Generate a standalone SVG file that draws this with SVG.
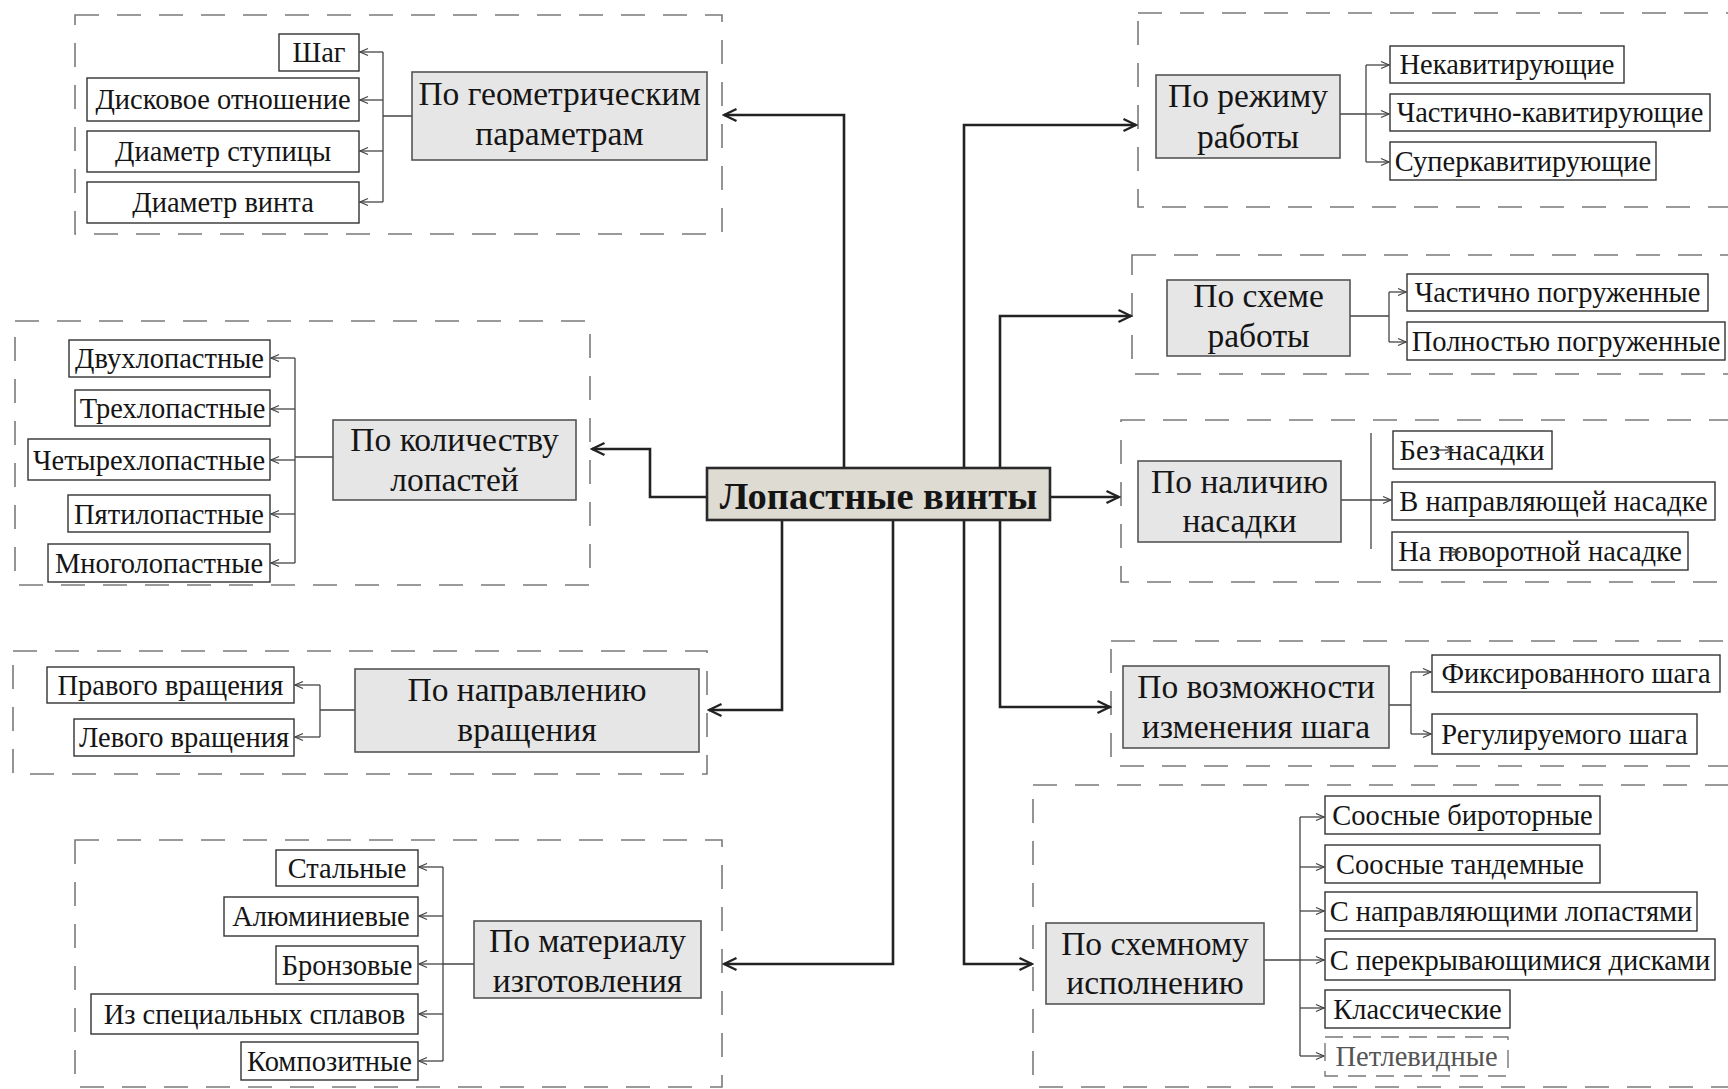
<svg xmlns="http://www.w3.org/2000/svg" width="1728" height="1089" viewBox="0 0 1728 1089">
<style>
.bg{fill:#ffffff}
.grp{fill:none;stroke:#7a7a7a;stroke-width:1.6;stroke-dasharray:24 18}
.cat{fill:#e6e6e6;stroke:#555;stroke-width:1.6}
.leaf{fill:#ffffff;stroke:#333;stroke-width:1.4}
.leafd{fill:#ffffff;stroke:#777;stroke-width:1.4;stroke-dasharray:18 10}
.root{fill:#dedbd3;stroke:#2a2a2a;stroke-width:2.6}
text{font-family:"Liberation Serif","Times New Roman",serif;fill:#151515;text-anchor:middle}
.lt{font-size:28.5px}
.ct{font-size:33.5px}
.rt{font-size:38.5px;font-weight:bold}
.gt{fill:#555}
.main{fill:none;stroke:#222;stroke-width:2.6;marker-end:url(#ab)}
.sub{fill:none;stroke:#444;stroke-width:1.3}
.sa{fill:none;stroke:#444;stroke-width:1.3;marker-end:url(#as)}
</style>
<defs>
<marker id="ab" viewBox="0 0 16 16" refX="14" refY="8" markerWidth="16" markerHeight="16" markerUnits="userSpaceOnUse" orient="auto"><path d="M1.5,2 L14,8 L1.5,14" fill="none" stroke="#222" stroke-width="2.4"/></marker>
<marker id="as" viewBox="0 0 10 10" refX="9" refY="5" markerWidth="10" markerHeight="10" markerUnits="userSpaceOnUse" orient="auto"><path d="M1,1.5 L9,5 L1,8.5" fill="none" stroke="#444" stroke-width="1.3"/></marker>
</defs>
<rect class="bg" x="0" y="0" width="1728" height="1089"/>

<g id="groups">
<rect class="grp" x="75" y="15" width="647" height="219"/>
<rect class="grp" x="15" y="321" width="575" height="264"/>
<rect class="grp" x="13" y="651" width="694" height="123"/>
<rect class="grp" x="75" y="840" width="647" height="247"/>
<rect class="grp" x="1138" y="13" width="620" height="194"/>
<rect class="grp" x="1132" y="255" width="626" height="119"/>
<rect class="grp" x="1121" y="420" width="637" height="162"/>
<rect class="grp" x="1111" y="641" width="647" height="125"/>
<rect class="grp" x="1033" y="785" width="725" height="302"/>
</g>

<g id="connectors">
<path class="main" d="M844,467 V115 H724"/>
<path class="main" d="M707,497 H650 V449 H592"/>
<path class="main" d="M782,520 V710 H709"/>
<path class="main" d="M893,520 V964 H724"/>
<path class="main" d="M964,467 V125 H1136"/>
<path class="main" d="M1000,467 V316 H1131"/>
<path class="main" d="M1050,497 H1119"/>
<path class="main" d="M1000,520 V707 H1110"/>
<path class="main" d="M964,520 V964 H1032"/>

<path class="sub" d="M412,116 H383 M383,52 V202"/>
<path class="sa" d="M383,52 H360"/><path class="sa" d="M383,100 H360"/><path class="sa" d="M383,151 H360"/><path class="sa" d="M383,202 H360"/>

<path class="sub" d="M333,457 H295 M295,358 V563"/>
<path class="sa" d="M295,358 H271"/><path class="sa" d="M295,409 H271"/><path class="sa" d="M295,460 H271"/><path class="sa" d="M295,514 H271"/><path class="sa" d="M295,563 H271"/>

<path class="sub" d="M355,710 H320 M320,685 V737"/>
<path class="sa" d="M320,685 H295"/><path class="sa" d="M320,737 H295"/>

<path class="sub" d="M474,964 H443 M443,867 V1061"/>
<path class="sa" d="M443,867 H419"/><path class="sa" d="M443,916 H419"/><path class="sa" d="M443,964 H419"/><path class="sa" d="M443,1014 H419"/><path class="sa" d="M443,1061 H419"/>

<path class="sub" d="M1340,114 H1366 M1366,65 V162"/>
<path class="sa" d="M1366,65 H1389"/><path class="sa" d="M1366,114 H1389"/><path class="sa" d="M1366,162 H1389"/>

<path class="sub" d="M1350,316 H1389 M1389,292 V342"/>
<path class="sa" d="M1389,292 H1406"/><path class="sa" d="M1389,342 H1406"/>

<path class="sub" d="M1371,433 V549"/>
<path class="sa" d="M1341,500 H1391"/>

<path class="sub" d="M1389,705 H1411 M1411,672 V734"/>
<path class="sa" d="M1411,672 H1431"/><path class="sa" d="M1411,734 H1431"/>

<path class="sub" d="M1264,960 H1300 M1300,817 V1056"/>
<path class="sa" d="M1300,817 H1324"/><path class="sa" d="M1300,867 H1324"/><path class="sa" d="M1300,911 H1324"/><path class="sa" d="M1300,960 H1324"/><path class="sa" d="M1300,1008 H1324"/><path class="sa" d="M1300,1056 H1324"/>
</g>

<g id="root"><rect class="root" x="707" y="468" width="343" height="52"/><text class="rt" x="878.5" y="509">Лопастные винты</text></g>

<g id="geom"><rect class="cat" x="412" y="72" width="295" height="88"/><text class="ct" x="559.5" y="105">По геометрическим</text><text class="ct" x="559.5" y="145">параметрам</text></g>
<g id="geom-1"><rect class="leaf" x="279" y="34" width="80" height="37"/><text class="lt" x="319" y="62">Шаг</text></g>
<g id="geom-2"><rect class="leaf" x="87" y="78" width="272" height="43"/><text class="lt" x="223" y="109">Дисковое отношение</text></g>
<g id="geom-3"><rect class="leaf" x="87" y="131" width="272" height="41"/><text class="lt" x="223" y="161">Диаметр ступицы</text></g>
<g id="geom-4"><rect class="leaf" x="87" y="182" width="272" height="41"/><text class="lt" x="223" y="212">Диаметр винта</text></g>

<g id="blades"><rect class="cat" x="333" y="420" width="243" height="80"/><text class="ct" x="454.5" y="451">По количеству</text><text class="ct" x="454.5" y="491">лопастей</text></g>
<g id="blades-1"><rect class="leaf" x="69" y="340" width="201" height="37"/><text class="lt" x="169.5" y="368">Двухлопастные</text></g>
<g id="blades-2"><rect class="leaf" x="75" y="390" width="195" height="36"/><text class="lt" x="172.5" y="418">Трехлопастные</text></g>
<g id="blades-3"><rect class="leaf" x="28" y="439" width="242" height="41"/><text class="lt" x="149" y="470">Четырехлопастные</text></g>
<g id="blades-4"><rect class="leaf" x="68" y="495" width="202" height="37"/><text class="lt" x="169" y="524">Пятилопастные</text></g>
<g id="blades-5"><rect class="leaf" x="48" y="544" width="222" height="38"/><text class="lt" x="159" y="573">Многолопастные</text></g>

<g id="rotation"><rect class="cat" x="355" y="669" width="344" height="83"/><text class="ct" x="527" y="701">По направлению</text><text class="ct" x="527" y="741">вращения</text></g>
<g id="rotation-1"><rect class="leaf" x="47" y="667" width="247" height="36"/><text class="lt" x="170.5" y="695">Правого вращения</text></g>
<g id="rotation-2"><rect class="leaf" x="74" y="719" width="220" height="37"/><text class="lt" x="184" y="747">Левого вращения</text></g>

<g id="material"><rect class="cat" x="474" y="921" width="227" height="77"/><text class="ct" x="587.5" y="952">По материалу</text><text class="ct" x="587.5" y="992">изготовления</text></g>
<g id="material-1"><rect class="leaf" x="276" y="850" width="142" height="36"/><text class="lt" x="347" y="878">Стальные</text></g>
<g id="material-2"><rect class="leaf" x="224" y="897" width="194" height="39"/><text class="lt" x="321" y="926">Алюминиевые</text></g>
<g id="material-3"><rect class="leaf" x="276" y="946" width="142" height="38"/><text class="lt" x="347" y="975">Бронзовые</text></g>
<g id="material-4"><rect class="leaf" x="91" y="994" width="327" height="40"/><text class="lt" x="254.5" y="1024">Из специальных сплавов</text></g>
<g id="material-5"><rect class="leaf" x="241" y="1042" width="177" height="38"/><text class="lt" x="329.5" y="1071">Композитные</text></g>

<g id="mode"><rect class="cat" x="1156" y="75" width="184" height="83"/><text class="ct" x="1248" y="107">По режиму</text><text class="ct" x="1248" y="148">работы</text></g>
<g id="mode-1"><rect class="leaf" x="1390" y="46" width="234" height="37"/><text class="lt" x="1507" y="74">Некавитирующие</text></g>
<g id="mode-2"><rect class="leaf" x="1390" y="94" width="320" height="37"/><text class="lt" x="1550" y="122">Частично-кавитирующие</text></g>
<g id="mode-3"><rect class="leaf" x="1390" y="142" width="266" height="38"/><text class="lt" x="1523" y="171">Суперкавитирующие</text></g>

<g id="scheme"><rect class="cat" x="1167" y="280" width="183" height="76"/><text class="ct" x="1258.5" y="307">По схеме</text><text class="ct" x="1258.5" y="347">работы</text></g>
<g id="scheme-1"><rect class="leaf" x="1407" y="274" width="301" height="37"/><text class="lt" x="1557.5" y="302">Частично погруженные</text></g>
<g id="scheme-2"><rect class="leaf" x="1407" y="322" width="318" height="38"/><text class="lt" x="1566" y="351">Полностью погруженные</text></g>

<g id="nozzle"><rect class="cat" x="1138" y="461" width="203" height="81"/><text class="ct" x="1239.5" y="493">По наличию</text><text class="ct" x="1239.5" y="532">насадки</text></g>
<g id="nozzle-1"><rect class="leaf" x="1393" y="431" width="159" height="38"/><text class="lt" x="1472" y="460">Без насадки</text></g>
<g id="nozzle-2"><rect class="leaf" x="1392" y="482" width="323" height="38"/><text class="lt" x="1553.5" y="511">В направляющей насадке</text></g>
<g id="nozzle-3"><rect class="leaf" x="1392" y="532" width="296" height="38"/><text class="lt" x="1540" y="561">На поворотной насадке</text></g>

<g id="pitch"><rect class="cat" x="1123" y="666" width="266" height="82"/><text class="ct" x="1256" y="698">По возможности</text><text class="ct" x="1256" y="738">изменения шага</text></g>
<g id="pitch-1"><rect class="leaf" x="1432" y="655" width="288" height="37"/><text class="lt" x="1576" y="683">Фиксированного шага</text></g>
<g id="pitch-2"><rect class="leaf" x="1432" y="714" width="265" height="40"/><text class="lt" x="1564.5" y="744">Регулируемого шага</text></g>

<g id="layout"><rect class="cat" x="1046" y="923" width="218" height="81"/><text class="ct" x="1155" y="955">По схемному</text><text class="ct" x="1155" y="994">исполнению</text></g>
<g id="layout-1"><rect class="leaf" x="1325" y="796" width="275" height="38"/><text class="lt" x="1462.5" y="825">Соосные бироторные</text></g>
<g id="layout-2"><rect class="leaf" x="1325" y="845" width="275" height="38"/><text class="lt" x="1460" y="874">Соосные тандемные</text></g>
<g id="layout-3"><rect class="leaf" x="1325" y="892" width="372" height="39"/><text class="lt" x="1511" y="921">С направляющими лопастями</text></g>
<g id="layout-4"><rect class="leaf" x="1325" y="939" width="390" height="41"/><text class="lt" x="1520" y="970">С перекрывающимися дисками</text></g>
<g id="layout-5"><rect class="leaf" x="1325" y="990" width="185" height="38"/><text class="lt" x="1417.5" y="1019">Классические</text></g>
<g id="layout-6"><rect class="leafd" x="1325" y="1037" width="183" height="39"/><text class="lt gt" x="1416.5" y="1066">Петлевидные</text></g>

<g id="stray-marks">
<path class="sa" d="M1435,450 H1453"/>
<path class="sa" d="M1443,552 H1460"/>
</g>
</svg>
